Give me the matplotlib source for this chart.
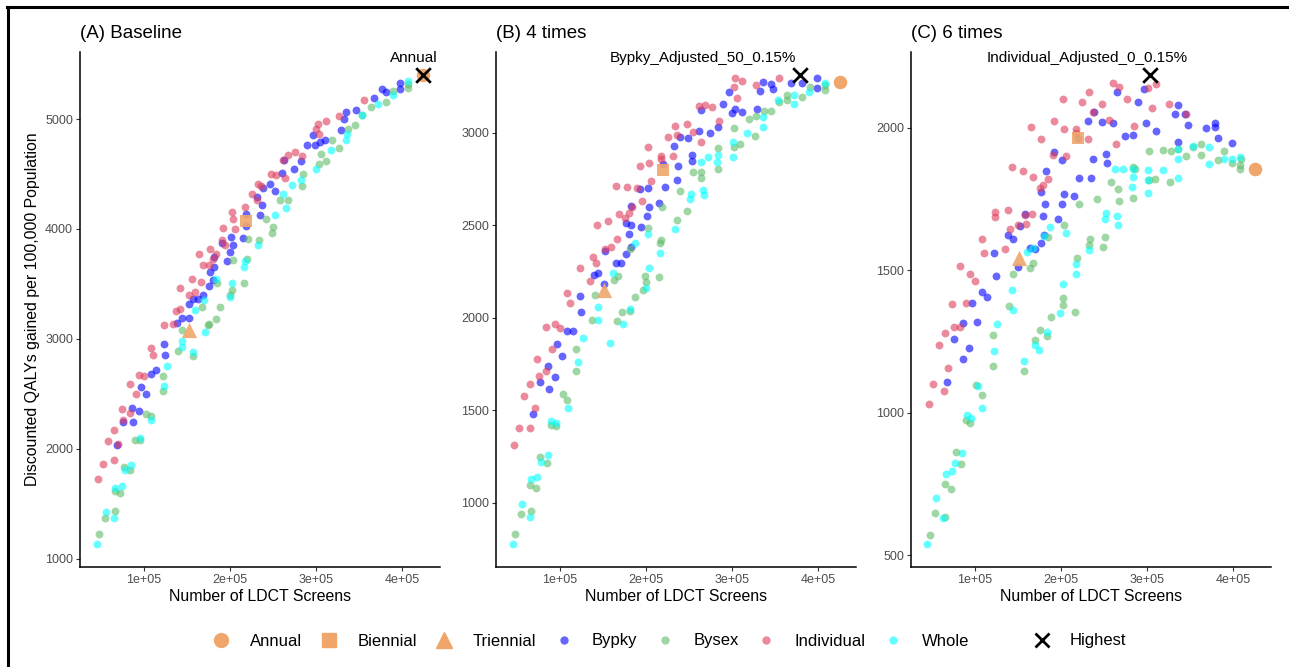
import numpy as np
import matplotlib.pyplot as plt
from matplotlib.lines import Line2D

plt.rcParams['font.family'] = ['Liberation Sans', 'DejaVu Sans']

# (screens in thousands, discounted QALYs gained per 100,000)
# ---- (A) Baseline
a_bypky = [(398, 5327), (398, 5276), (377, 5276), (381, 5245), (367, 5191), (346, 5079), (335, 5064),
           (332, 5003), (329, 4903), (296, 4852), (289, 4761), (299, 4761), (305, 4791), (311, 4812),
           (263, 4624), (274, 4548), (283, 4618), (261, 4509), (247, 4406), (239, 4373), (252, 4342),
           (232, 4291), (237, 4221), (235, 4130), (219, 4139), (219, 4024), (201, 3927), (204, 3852),
           (200, 3791), (215, 3921), (191, 3873), (197, 3709), (182, 3745), (182, 3655), (177, 3609),
           (181, 3533), (176, 3479), (169, 3397), (163, 3367), (157, 3361), (152, 3321), (152, 3194),
           (144, 3194), (139, 3145), (123, 2955), (125, 2858), (114, 2713), (108, 2682), (97, 2561),
           (103, 2501), (86, 2374), (94, 2343), (76, 2244), (87, 2244), (69, 2032)]
a_bysex = [(407, 5321), (407, 5285), (390, 5255), (381, 5155), (364, 5109), (354, 5033), (345, 4942),
           (337, 4912), (319, 4806), (327, 4739), (312, 4618), (306, 4679), (304, 4588), (285, 4503),
           (284, 4388), (258, 4261), (267, 4267), (242, 4094), (250, 4018), (249, 3967), (221, 3912),
           (234, 3897), (220, 3730), (217, 3509), (204, 3718), (202, 3442), (200, 3397), (189, 3288),
           (184, 3185), (176, 3139), (168, 3288), (185, 3509), (175, 3130), (145, 3082), (140, 2894),
           (157, 2849), (122, 2658), (122, 2525), (103, 2319), (108, 2295), (90, 2077), (96, 2077),
           (77, 1835), (84, 1805), (67, 1614), (73, 1599), (67, 1433), (55, 1372), (48, 1221)]
a_indiv = [(356, 5170), (327, 5024), (302, 4958), (312, 4982), (300, 4912), (304, 4867), (276, 4700),
           (267, 4670), (262, 4630), (284, 4660), (248, 4497), (254, 4488), (264, 4464), (233, 4412),
           (236, 4388), (226, 4321), (231, 4267), (218, 4200), (203, 4155), (204, 4094), (192, 4012),
           (206, 4003), (191, 3903), (194, 3852), (177, 3821), (184, 3776), (164, 3776), (169, 3670),
           (176, 3670), (181, 3730), (156, 3542), (167, 3518), (142, 3464), (152, 3397), (159, 3427),
           (142, 3276), (138, 3255), (123, 3124), (134, 3136), (108, 2915), (111, 2858), (95, 2673),
           (100, 2658), (84, 2592), (91, 2501), (75, 2365), (84, 2325), (76, 2259), (66, 2174),
           (59, 2071), (70, 2041), (53, 1859), (65, 1902), (47, 1723)]
a_whole = [(407, 5342), (389, 5215), (372, 5139), (353, 5033), (336, 4867), (335, 4806), (317, 4715),
           (300, 4548), (283, 4442), (272, 4403), (262, 4321), (265, 4194), (252, 4124), (233, 3852),
           (218, 3709), (217, 3655), (203, 3509), (200, 3385), (184, 3548), (170, 3352), (160, 3261),
           (171, 3061), (144, 2985), (144, 2930), (157, 2879), (127, 2752), (123, 2570), (109, 2259),
           (96, 2098), (85, 1856), (78, 1811), (75, 1663), (67, 1645), (56, 1427), (65, 1372), (46, 1136)]
a_annual = (424, 5397)
a_biennial = (219, 4070)
a_triennial = (152, 3082)
a_highest = (424, 5397)
a_label = 'Annual'

# ---- (B) 4 times
b_bypky = [(399, 3297), (399, 3243), (381, 3270), (369, 3270), (336, 3274), (345, 3261), (348, 3234),
           (333, 3227), (297, 3222), (290, 3155), (264, 3123), (304, 3126), (300, 3108), (312, 3114),
           (329, 3128), (284, 3029), (275, 3000), (262, 3009), (240, 2978), (249, 2973), (233, 2928),
           (253, 2879), (254, 2847), (237, 2822), (220, 2831), (236, 2744), (222, 2708), (193, 2694),
           (202, 2699), (215, 2622), (204, 2600), (183, 2605), (201, 2551), (177, 2513), (183, 2501),
           (180, 2450), (194, 2488), (183, 2384), (177, 2344), (152, 2362), (165, 2294), (171, 2294),
           (140, 2231), (144, 2240), (151, 2182), (123, 2117), (125, 2032), (109, 1926), (115, 1930),
           (97, 1857), (103, 1794), (86, 1740), (95, 1677), (77, 1652), (88, 1614), (69, 1477)]
b_bysex = [(408, 3231), (408, 3258), (391, 3249), (381, 3191), (364, 3204), (364, 3177), (355, 3168),
           (345, 3117), (337, 3117), (328, 3092), (320, 3074), (327, 2982), (302, 3023), (309, 2939),
           (302, 2924), (284, 2919), (284, 2804), (255, 2789), (264, 2789), (264, 2753), (240, 2686),
           (219, 2600), (248, 2578), (236, 2528), (202, 2483), (218, 2420), (216, 2402), (182, 2371),
           (199, 2225), (200, 2195), (215, 2218), (197, 2150), (168, 2225), (163, 2204), (141, 2123),
           (187, 2110), (172, 2029), (182, 2038), (138, 1987), (167, 1984), (119, 1830), (119, 1709),
           (104, 1588), (108, 1556), (90, 1417), (96, 1412), (77, 1249), (85, 1213), (66, 1096),
           (73, 1079), (67, 955), (55, 939), (48, 829)]
b_indiv = [(303, 3294), (312, 3279), (302, 3245), (306, 3186), (328, 3258), (355, 3294), (262, 3144),
           (269, 3150), (277, 3137), (285, 3065), (264, 2948), (234, 3038), (248, 3045), (255, 3005),
           (236, 2987), (226, 2978), (203, 2921), (218, 2876), (218, 2856), (231, 2876), (193, 2820),
           (204, 2834), (206, 2739), (165, 2712), (178, 2705), (190, 2703), (195, 2631), (169, 2560),
           (180, 2568), (176, 2537), (184, 2600), (156, 2524), (143, 2499), (167, 2423), (159, 2384),
           (152, 2369), (139, 2330), (142, 2294), (124, 2270), (135, 2198), (109, 2132), (112, 2077),
           (84, 1951), (95, 1964), (100, 1944), (91, 1832), (74, 1778), (76, 1682), (84, 1709),
           (66, 1641), (59, 1574), (71, 1513), (53, 1404), (65, 1406), (47, 1309)]
b_whole = [(408, 3270), (390, 3218), (372, 3204), (372, 3155), (354, 3177), (336, 3083), (336, 3029),
           (318, 2996), (301, 2951), (301, 2870), (284, 2879), (283, 2843), (272, 2870), (264, 2840),
           (252, 2668), (251, 2640), (266, 2690), (267, 2663), (234, 2479), (202, 2452), (217, 2348),
           (187, 2405), (162, 2240), (204, 2270), (200, 2159), (144, 2056), (182, 2045), (145, 1987),
           (173, 1963), (127, 1890), (158, 1863), (121, 1758), (110, 1513), (90, 1439), (96, 1433),
           (86, 1258), (78, 1217), (74, 1141), (67, 1128), (56, 991), (65, 924), (46, 776)]
b_annual = (426, 3272)
b_biennial = (220, 2798)
b_triennial = (151, 2150)
b_highest = (379, 3312)
b_label = 'Bypky_Adjusted_50_0.15%'

# ---- (C) 6 times
c_bypky = [(265, 2126), (296, 2136), (290, 2089), (336, 2080), (332, 2047), (344, 2047), (348, 2009),
           (379, 2015), (379, 2003), (368, 1998), (383, 1963), (399, 1948), (299, 2015), (311, 1989),
           (239, 2054), (232, 2023), (248, 2019), (261, 2015), (275, 1971), (284, 1974), (220, 1965),
           (336, 1951), (192, 1916), (201, 1886), (237, 1892), (252, 1907), (254, 1875), (183, 1848),
           (221, 1824), (235, 1824), (177, 1773), (204, 1769), (215, 1760), (182, 1732), (201, 1734),
           (179, 1691), (197, 1678), (158, 1696), (152, 1655), (139, 1623), (144, 1609), (181, 1623),
           (177, 1596), (164, 1578), (170, 1576), (122, 1561), (150, 1512), (125, 1479), (108, 1424),
           (114, 1406), (97, 1385), (86, 1316), (103, 1318), (76, 1259), (93, 1228), (86, 1189),
           (68, 1107)]
c_bysex = [(408, 1854), (408, 1869), (409, 1889), (399, 1877), (390, 1919), (382, 1886), (363, 1943),
           (363, 1904), (353, 1933), (345, 1902), (302, 1919), (319, 1921), (328, 1919), (336, 1925),
           (284, 1863), (286, 1857), (309, 1820), (302, 1818), (327, 1810), (258, 1810), (266, 1785),
           (267, 1744), (284, 1752), (242, 1749), (221, 1734), (204, 1660), (234, 1608), (251, 1617),
           (249, 1580), (233, 1590), (219, 1543), (217, 1354), (185, 1615), (168, 1524), (164, 1508),
           (145, 1486), (202, 1403), (203, 1379), (189, 1334), (140, 1375), (176, 1291), (121, 1271),
           (121, 1164), (170, 1256), (184, 1270), (157, 1145), (102, 1096), (108, 1063), (90, 975),
           (95, 964), (78, 860), (84, 818), (66, 751), (73, 732), (66, 634), (54, 648), (48, 569)]
c_indiv = [(261, 2156), (268, 2142), (301, 2141), (311, 2153), (233, 2126), (203, 2101), (225, 2089),
           (248, 2082), (277, 2100), (306, 2070), (326, 2082), (237, 2054), (256, 2027), (192, 2025),
           (204, 1995), (218, 1995), (218, 1980), (165, 2001), (177, 1960), (232, 1959), (285, 2006),
           (264, 1943), (345, 2047), (191, 1904), (206, 1900), (143, 1863), (156, 1849), (168, 1826),
           (185, 1819), (179, 1799), (176, 1787), (123, 1705), (139, 1713), (124, 1685), (158, 1693),
           (167, 1699), (160, 1662), (150, 1658), (141, 1644), (108, 1608), (135, 1573), (111, 1559),
           (83, 1515), (95, 1488), (100, 1462), (74, 1383), (90, 1385), (76, 1300), (83, 1300),
           (66, 1280), (58, 1239), (69, 1158), (52, 1099), (64, 1076), (47, 1029)]
c_whole = [(408, 1898), (399, 1889), (390, 1892), (372, 1872), (372, 1931), (354, 1937), (336, 1927),
           (336, 1892), (336, 1824), (319, 1851), (301, 1851), (301, 1816), (301, 1772), (284, 1854),
           (284, 1826), (283, 1793), (263, 1855), (272, 1855), (252, 1701), (251, 1679), (265, 1690),
           (266, 1658), (233, 1570), (187, 1650), (206, 1631), (181, 1621), (161, 1564), (168, 1578),
           (218, 1520), (218, 1485), (203, 1450), (143, 1430), (145, 1360), (199, 1348), (126, 1312),
           (184, 1283), (170, 1238), (175, 1221), (122, 1215), (157, 1180), (104, 1092), (109, 1016),
           (91, 993), (96, 981), (85, 859), (77, 824), (74, 794), (67, 786), (55, 699), (63, 631),
           (45, 538)]
c_annual = (426, 1854)
c_biennial = (220, 1965)
c_triennial = (151, 1543)
c_highest = (303, 2185)
c_label = 'Individual_Adjusted_0_0.15%'

titles = ['(A) Baseline', '(B) 4 times', '(C) 6 times']
x_ticks = [1e5, 2e5, 3e5, 4e5]
x_ticklabels = ['1e+05', '2e+05', '3e+05', '4e+05']

col = {'Bypky': '#0000FF', 'Bysex': '#5DBB68', 'Individual': '#DE3C5C', 'Whole': '#00FFFF'}
orange = '#F0A66A'

panels = [
    dict(series={'Bypky': a_bypky, 'Bysex': a_bysex, 'Individual': a_indiv, 'Whole': a_whole},
         annual=a_annual, biennial=a_biennial, triennial=a_triennial, highest=a_highest,
         label=a_label, label_xy=(413, 5552), ylim=(925, 5610), yticks=[1000, 2000, 3000, 4000, 5000],
         left=80),
    dict(series={'Bypky': b_bypky, 'Bysex': b_bysex, 'Individual': b_indiv, 'Whole': b_whole},
         annual=b_annual, biennial=b_biennial, triennial=b_triennial, highest=b_highest,
         label=b_label, label_xy=(266, 3404), ylim=(652, 3436), yticks=[1000, 1500, 2000, 2500, 3000],
         left=496),
    dict(series={'Bypky': c_bypky, 'Bysex': c_bysex, 'Individual': c_indiv, 'Whole': c_whole},
         annual=c_annual, biennial=c_biennial, triennial=c_triennial, highest=c_highest,
         label=c_label, label_xy=(230, 2245), ylim=(458, 2266), yticks=[500, 1000, 1500, 2000],
         left=911),
]

W, H = 1289, 667
fig = plt.figure(figsize=(W / 100, H / 100), dpi=100)

for i, p in enumerate(panels):
    ax = fig.add_axes([p['left'] / W, 1 - 567 / H, 360 / W, 515 / H])
    for name in ['Bypky', 'Bysex', 'Individual', 'Whole']:
        pts = np.array(p['series'][name], dtype=float)
        ax.scatter(pts[:, 0] * 1000, pts[:, 1], s=32, color=col[name], alpha=0.6, linewidths=0)
    ax.scatter(p['annual'][0] * 1000, p['annual'][1], s=95, marker='o', color=orange, linewidths=0, zorder=3)
    ax.scatter(p['biennial'][0] * 1000, p['biennial'][1], s=85, marker='s', color=orange, alpha=0.9,
               linewidths=0, zorder=3)
    ax.scatter(p['triennial'][0] * 1000, p['triennial'][1], s=120, marker='^', color=orange, alpha=0.9,
               linewidths=0, zorder=3)
    ax.scatter(p['highest'][0] * 1000, p['highest'][1], s=110, marker='x', color='black', linewidths=2,
               zorder=4)
    ax.text(p['label_xy'][0] * 1000, p['label_xy'][1], p['label'], ha='center', va='center', fontsize=11)

    ax.set_xlim(26e3, 444e3)
    ax.set_ylim(*p['ylim'])
    ax.set_xticks(x_ticks)
    ax.set_xticklabels(x_ticklabels)
    ax.set_yticks(p['yticks'])
    ax.tick_params(labelsize=9, labelcolor='#4D4D4D', color='#333333', length=3, width=0.8, pad=2)
    for s in ['top', 'right']:
        ax.spines[s].set_visible(False)
    for s in ['left', 'bottom']:
        ax.spines[s].set_linewidth(1.1)
    ax.set_xlabel('Number of LDCT Screens', fontsize=11.4)
    ax.xaxis.set_label_coords(0.5, -0.058)
    ax.xaxis.label.set_va('center')
    if i == 0:
        ax.set_ylabel('Discounted QALYs gained per 100,000 Population', fontsize=11.4)
        ax.yaxis.set_label_coords(-0.131, 0.5)
        ax.yaxis.label.set_va('center')
    ax.text(0, 1 + 19 / 515, titles[i], transform=ax.transAxes, ha='left', va='center', fontsize=13.5)

handles = [
    Line2D([], [], ls='none', marker='o', ms=10, color=orange),
    Line2D([], [], ls='none', marker='s', ms=10, color=orange),
    Line2D([], [], ls='none', marker='^', ms=11, color=orange),
    Line2D([], [], ls='none', marker='o', ms=6, color=col['Bypky'], alpha=0.6, mew=0),
    Line2D([], [], ls='none', marker='o', ms=6, color=col['Bysex'], alpha=0.6, mew=0),
    Line2D([], [], ls='none', marker='o', ms=6, color=col['Individual'], alpha=0.6, mew=0),
    Line2D([], [], ls='none', marker='o', ms=6, color=col['Whole'], alpha=0.6, mew=0),
]
labels = ['Annual', 'Biennial', 'Triennial', 'Bypky', 'Bysex', 'Individual', 'Whole']
leg_kw = dict(loc='center', ncol=8, frameon=False, fontsize=12, handletextpad=1.1,
              columnspacing=1.05, handlelength=1.2)
# fig.legend appends to fig.legends, so both guides stay
fig.legend(handles, labels, bbox_to_anchor=(590 / W, 1 - 641 / H), **leg_kw)
fig.legend([Line2D([], [], ls='none', marker='x', ms=10, color='black', mew=2)], ['Highest'],
           bbox_to_anchor=(1079 / W, 1 - 641 / H), **leg_kw)

# outer border (top and left edges visible)
fig.add_artist(Line2D([7 / W, 1], [1 - 7 / H, 1 - 7 / H], transform=fig.transFigure, color='black', lw=2.2))
fig.add_artist(Line2D([8 / W, 8 / W], [0, 1 - 7 / H], transform=fig.transFigure, color='black', lw=2.2))

fig.savefig('out.png', dpi=100)
